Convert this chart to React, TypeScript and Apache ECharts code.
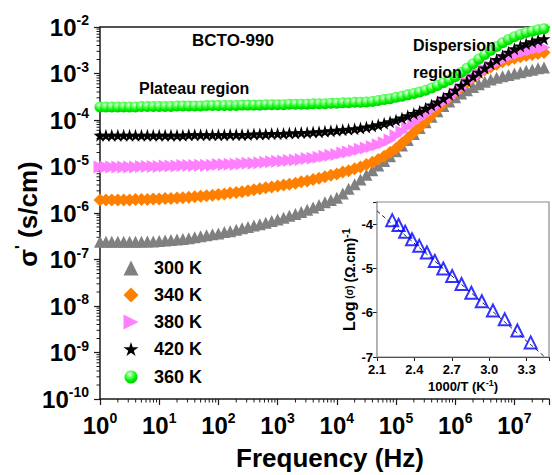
import React, { useEffect, useRef } from 'react';
import * as echarts from 'echarts';

const FONT = '"Liberation Sans", Arial, Helvetica, sans-serif';

// Frequency points (Hz)
const freqHz = [
  1, 1.26, 1.58, 2, 2.51, 3.16, 3.98, 5.01, 6.31, 7.94,
  10, 12.6, 15.8, 20, 25.1, 31.6, 39.8, 50.1, 63.1, 79.4,
  100, 126, 158, 200, 251, 316, 398, 501, 631, 794,
  1e3, 1.26e3, 1.58e3, 2e3, 2.51e3, 3.16e3, 3.98e3, 5.01e3, 6.31e3, 7.94e3,
  1e4, 1.26e4, 1.58e4, 2e4, 2.51e4, 3.16e4, 3.98e4, 5.01e4, 6.31e4, 7.94e4,
  1e5, 1.26e5, 1.58e5, 2e5, 2.51e5, 3.16e5, 3.98e5, 5.01e5, 6.31e5, 7.94e5,
  1e6, 1.26e6, 1.58e6, 2e6, 2.51e6, 3.16e6, 3.98e6, 5.01e6, 6.31e6, 7.94e6,
  1e7, 1.26e7, 1.58e7, 2e7, 2.51e7, 3.16e7,
];

// AC conductivity sigma' (S/cm)
const sigma300K = [
  2.4e-7, 2.4e-7, 2.4e-7, 2.4e-7, 2.4e-7, 2.4e-7, 2.4e-7, 2.4e-7, 2.45e-7, 2.45e-7, 2.51e-7,
  2.57e-7, 2.63e-7, 2.69e-7, 2.75e-7, 2.88e-7, 3.02e-7, 3.16e-7, 3.31e-7, 3.47e-7, 3.63e-7,
  3.89e-7, 4.07e-7, 4.37e-7, 4.68e-7, 5.01e-7, 5.37e-7, 5.75e-7, 6.17e-7, 6.76e-7, 7.24e-7,
  7.94e-7, 8.71e-7, 9.55e-7, 1.05e-6, 1.17e-6, 1.32e-6, 1.48e-6, 1.7e-6, 1.91e-6, 2.14e-6,
  2.63e-6, 3.31e-6, 4.17e-6, 5.25e-6, 6.61e-6, 8.32e-6, 1.05e-5, 1.32e-5, 1.66e-5, 2.14e-5,
  2.82e-5, 3.72e-5, 5.01e-5, 6.76e-5, 8.91e-5, 1.17e-4, 1.55e-4, 2.0e-4, 2.51e-4, 3.09e-4,
  3.72e-4, 4.37e-4, 5.13e-4, 5.89e-4, 6.61e-4, 7.41e-4, 8.13e-4, 8.71e-4, 9.33e-4, 1.0e-3,
  1.07e-3, 1.15e-3, 1.2e-3, 1.29e-3, 1.35e-3,
];
const sigma340K = [
  1.91e-6, 1.91e-6, 1.91e-6, 1.91e-6, 1.91e-6, 1.91e-6, 1.95e-6, 1.95e-6, 1.95e-6, 2.0e-6, 2.0e-6,
  2.04e-6, 2.04e-6, 2.09e-6, 2.14e-6, 2.19e-6, 2.24e-6, 2.29e-6, 2.34e-6, 2.4e-6, 2.51e-6,
  2.57e-6, 2.69e-6, 2.75e-6, 2.88e-6, 3.02e-6, 3.16e-6, 3.31e-6, 3.47e-6, 3.63e-6, 3.8e-6,
  3.98e-6, 4.17e-6, 4.37e-6, 4.68e-6, 4.9e-6, 5.25e-6, 5.62e-6, 6.03e-6, 6.46e-6, 6.92e-6,
  7.59e-6, 8.13e-6, 8.91e-6, 9.77e-6, 1.1e-5, 1.23e-5, 1.41e-5, 1.66e-5, 2.0e-5, 2.45e-5,
  3.16e-5, 4.07e-5, 5.37e-5, 7.08e-5, 9.33e-5, 1.26e-4, 1.7e-4, 2.29e-4, 3.02e-4, 3.89e-4,
  5.01e-4, 6.46e-4, 8.13e-4, 1.0e-3, 1.2e-3, 1.38e-3, 1.58e-3, 1.78e-3, 1.95e-3, 2.14e-3,
  2.29e-3, 2.45e-3, 2.57e-3, 2.69e-3, 2.82e-3,
];
const sigma380K = [
  9.77e-6, 9.77e-6, 9.77e-6, 9.77e-6, 9.77e-6, 9.77e-6, 9.77e-6, 1.0e-5, 1.0e-5, 1.0e-5, 1.0e-5,
  1.02e-5, 1.02e-5, 1.02e-5, 1.05e-5, 1.05e-5, 1.05e-5, 1.07e-5, 1.07e-5, 1.07e-5, 1.1e-5,
  1.1e-5, 1.12e-5, 1.12e-5, 1.15e-5, 1.17e-5, 1.17e-5, 1.2e-5, 1.23e-5, 1.26e-5, 1.29e-5,
  1.32e-5, 1.35e-5, 1.38e-5, 1.41e-5, 1.48e-5, 1.51e-5, 1.58e-5, 1.66e-5, 1.74e-5, 1.82e-5,
  1.95e-5, 2.04e-5, 2.19e-5, 2.34e-5, 2.51e-5, 2.69e-5, 2.95e-5, 3.24e-5, 3.72e-5, 4.57e-5,
  5.62e-5, 7.08e-5, 8.71e-5, 1.07e-4, 1.32e-4, 1.62e-4, 2.0e-4, 2.4e-4, 2.95e-4, 3.72e-4,
  4.79e-4, 6.31e-4, 7.94e-4, 9.77e-4, 1.2e-3, 1.41e-3, 1.66e-3, 1.95e-3, 2.24e-3, 2.51e-3,
  2.75e-3, 3.02e-3, 3.24e-3, 3.47e-3, 3.63e-3,
];
const sigma420K = [
  4.68e-5, 4.68e-5, 4.68e-5, 4.68e-5, 4.68e-5, 4.68e-5, 4.68e-5, 4.68e-5, 4.68e-5, 4.68e-5, 4.68e-5,
  4.68e-5, 4.68e-5, 4.68e-5, 4.68e-5, 4.79e-5, 4.79e-5, 4.79e-5, 4.79e-5, 4.79e-5, 4.79e-5,
  4.79e-5, 4.9e-5, 4.9e-5, 4.9e-5, 4.9e-5, 5.01e-5, 5.01e-5, 5.01e-5, 5.13e-5, 5.13e-5,
  5.13e-5, 5.25e-5, 5.25e-5, 5.37e-5, 5.37e-5, 5.5e-5, 5.62e-5, 5.75e-5, 5.89e-5, 6.03e-5,
  6.17e-5, 6.31e-5, 6.46e-5, 6.76e-5, 7.08e-5, 7.41e-5, 7.94e-5, 8.51e-5, 9.12e-5, 1.0e-4,
  1.1e-4, 1.23e-4, 1.38e-4, 1.55e-4, 1.78e-4, 2.09e-4, 2.45e-4, 2.95e-4, 3.55e-4, 4.37e-4,
  5.5e-4, 6.92e-4, 8.71e-4, 1.07e-3, 1.32e-3, 1.62e-3, 2.0e-3, 2.4e-3, 2.88e-3, 3.39e-3,
  3.89e-3, 4.37e-3, 4.79e-3, 5.25e-3, 5.62e-3,
];
const sigma360K = [
  1.91e-4, 1.91e-4, 1.91e-4, 1.91e-4, 1.91e-4, 1.91e-4, 1.91e-4, 1.95e-4, 1.95e-4, 1.95e-4, 1.95e-4,
  1.95e-4, 1.95e-4, 2.0e-4, 2.0e-4, 2.0e-4, 2.0e-4, 2.0e-4, 2.04e-4, 2.04e-4, 2.04e-4,
  2.04e-4, 2.04e-4, 2.04e-4, 2.09e-4, 2.09e-4, 2.09e-4, 2.09e-4, 2.14e-4, 2.14e-4, 2.14e-4,
  2.14e-4, 2.19e-4, 2.19e-4, 2.19e-4, 2.19e-4, 2.24e-4, 2.24e-4, 2.24e-4, 2.29e-4, 2.29e-4,
  2.34e-4, 2.34e-4, 2.4e-4, 2.4e-4, 2.45e-4, 2.51e-4, 2.63e-4, 2.75e-4, 2.88e-4, 3.09e-4,
  3.24e-4, 3.47e-4, 3.72e-4, 3.98e-4, 4.37e-4, 4.9e-4, 5.5e-4, 6.31e-4, 7.24e-4, 8.51e-4,
  1.05e-3, 1.29e-3, 1.62e-3, 2.04e-3, 2.57e-3, 3.16e-3, 3.8e-3, 4.57e-3, 5.37e-3, 6.17e-3,
  6.92e-3, 7.59e-3, 8.13e-3, 8.71e-3, 9.12e-3,
];

const seriesNames = ['300 K', '340 K', '380 K', '420 K', '360 K'];
const seriesColors = ['#808080', '#ff8000', '#ff80ff', '#000000', '#00ff00'];

// Inset: Arrhenius plot
const invTemp = [2.222, 2.273, 2.326, 2.381, 2.439, 2.5, 2.564, 2.632, 2.703, 2.778, 2.857, 2.941, 3.03, 3.125, 3.226, 3.333];
const logSigma = [-3.91, -4.02, -4.17, -4.34, -4.49, -4.64, -4.83, -5.0, -5.17, -5.35, -5.55, -5.74, -5.95, -6.15, -6.4, -6.67];
const fitX = [2.1, 3.48];
const fitY = [-3.7, -7.08];

const STAR = 'path://M50,0L61,35L98,35L68,57L79,91L50,70L21,91L32,57L2,35L39,35Z';
const RIGHT_TRI = 'path://M0,0L10,5L0,10Z';

export default function App() {
  const ref = useRef<HTMLDivElement>(null);

  useEffect(() => {
    if (!ref.current) return;
    const chart = echarts.init(ref.current, undefined, { renderer: 'svg' });

    const sigmaSets = [sigma300K, sigma340K, sigma380K, sigma420K, sigma360K];
    const symbols = ['triangle', 'diamond', RIGHT_TRI, STAR, 'circle'];
    const sizes = [12, 13, 13, 13, 11];
    const greenFill = new echarts.graphic.RadialGradient(0.4, 0.3, 0.65, [
      { offset: 0, color: '#eaffea' },
      { offset: 0.35, color: '#66ff66' },
      { offset: 0.75, color: '#00f000' },
      { offset: 1, color: '#00d400' },
    ]);

    const mainSeries = sigmaSets.map((arr, i) => ({
      name: seriesNames[i],
      type: 'scatter',
      xAxisIndex: 0,
      yAxisIndex: 0,
      symbol: symbols[i],
      symbolSize: sizes[i],
      itemStyle: { color: i === 4 ? greenFill : seriesColors[i], opacity: 1 },
      data: freqHz.map((f, k) => [f, arr[k]]),
      z: 3 + i,
      silent: true,
    }));

    const xMax = 3.84e7;
    const minorX: number[][] = [];
    for (let d = 0; d <= 7; d++) for (let m = 2; m <= 9; m++) { const f = m * Math.pow(10, d); if (f < xMax) minorX.push([f, 1e-10]); }
    const minorY: number[][] = [];
    for (let d = -10; d <= -3; d++) for (let m = 2; m <= 9; m++) minorY.push([1, m * Math.pow(10, d)]);

    const tickLabel = (v: number) => {
      const e = Math.log10(v);
      const r = Math.round(e);
      if (Math.abs(e - r) > 0.01) return '';
      return `{b|10}{s|${r}}`;
    };
    const richTick = {
      b: { fontSize: 24, fontWeight: 'bold', fontFamily: FONT, color: '#000', lineHeight: 28 },
      s: { fontSize: 14, fontWeight: 'bold', fontFamily: FONT, color: '#000', verticalAlign: 'top', lineHeight: 14 },
    };
    const axisLineStyle = { color: '#1a1a1a', width: 1.5 };

    const legendRows = [268, 295, 322, 349, 377];
    const legendSizes = [15, 15, 15, 15, 13];

    const option: any = {
      animation: false,
      backgroundColor: '#ffffff',
      grid: [
        { left: 100, top: 27, right: 0, bottom: 76 },
        { left: 377, top: 202, width: 173, height: 155, show: true, backgroundColor: '#ffffff', borderColor: '#8a8a8a', borderWidth: 1.2, z: 10 },
      ],
      xAxis: [
        {
          type: 'log', gridIndex: 0, min: 1, max: xMax, logBase: 10, splitNumber: 8,
          axisLine: { show: true, lineStyle: axisLineStyle },
          axisTick: { show: true, inside: false, length: 6, lineStyle: { color: '#1a1a1a', width: 1.2 } },
          axisLabel: { formatter: tickLabel, rich: richTick, margin: 12 },
          splitLine: { show: false },
        },
        {
          type: 'log', gridIndex: 0, position: 'top', min: 1, max: xMax, logBase: 10,
          axisLine: { show: true, lineStyle: axisLineStyle },
          axisTick: { show: false }, axisLabel: { show: false }, splitLine: { show: false },
        },
        {
          type: 'value', gridIndex: 1, min: 2.1, max: 3.48, interval: 0.3,
          axisLine: { show: true, lineStyle: { color: '#1a1a1a', width: 1.2 } },
          axisTick: { show: true, length: 4, lineStyle: { color: '#1a1a1a' } },
          axisLabel: {
            margin: 6, color: '#000', fontSize: 13, fontWeight: 'bold', fontFamily: FONT, lineHeight: 12,
            formatter: (v: number) => (v > 3.4 ? '' : v.toFixed(1)),
          },
          splitLine: { show: false },
          name: '{a|1000/T (K}{s|-1}{a|)}',
          nameLocation: 'middle', nameGap: 21,
          nameTextStyle: {
            rich: {
              a: { fontSize: 13, fontWeight: 'bold', fontFamily: FONT, color: '#000', lineHeight: 16 },
              s: { fontSize: 9, fontWeight: 'bold', fontFamily: FONT, color: '#000', verticalAlign: 'top', lineHeight: 9 },
            },
          },
        },
      ],
      yAxis: [
        {
          type: 'log', gridIndex: 0, min: 1e-10, max: 1e-2, logBase: 10, splitNumber: 8,
          axisLine: { show: true, lineStyle: axisLineStyle },
          axisTick: { show: true, inside: false, length: 6, lineStyle: { color: '#1a1a1a', width: 1.2 } },
          axisLabel: { formatter: tickLabel, rich: richTick, margin: 11 },
          splitLine: { show: false },
        },
        {
          type: 'value', gridIndex: 1, min: -7, max: -3.5, interval: 1,
          axisLine: { show: true, lineStyle: { color: '#1a1a1a', width: 1.2 } },
          axisTick: { show: true, length: 4, lineStyle: { color: '#1a1a1a' } },
          axisLabel: {
            margin: 4, color: '#000', fontSize: 13, fontWeight: 'bold', fontFamily: FONT, lineHeight: 12,
            formatter: (v: number) => (Math.abs(v - Math.round(v)) > 1e-6 ? '' : String(Math.round(v))),
          },
          splitLine: { show: false },
          name: '{a|Log}{b| (σ) }{c|(Ω.cm)}{s|-1}',
          nameLocation: 'middle', nameRotate: 90, nameGap: 17,
          nameTextStyle: {
            rich: {
              a: { fontSize: 16, fontWeight: 'bold', fontFamily: FONT, color: '#000', lineHeight: 18 },
              b: { fontSize: 10, fontWeight: 'bold', fontFamily: FONT, color: '#000' },
              c: { fontSize: 14, fontWeight: 'bold', fontFamily: FONT, color: '#000' },
              s: { fontSize: 11, fontWeight: 'bold', fontFamily: FONT, color: '#000', verticalAlign: 'top', lineHeight: 11 },
            },
          },
        },
      ],
      legend: seriesNames.map((n, i) => ({
        data: [n],
        left: 131 - legendSizes[i] / 2,
        top: legendRows[i] - 9,
        padding: 0,
        itemWidth: legendSizes[i],
        itemHeight: legendSizes[i],
        selectedMode: false,
        textStyle: {
          fontSize: 18, fontWeight: 'bold', fontFamily: FONT, color: '#000', lineHeight: 18,
          padding: [0, 0, 0, 154 - (131 + legendSizes[i] / 2) - 5],
        },
      })),
      graphic: [
        {
          type: 'text', left: 192, top: 32, z: 100,
          style: { text: 'BCTO-990', fontSize: 17, fontWeight: 'bold', fontFamily: FONT, fill: '#000' },
        },
        {
          type: 'text', left: 139, top: 80, z: 100,
          style: { text: 'Plateau region', fontSize: 16, fontWeight: 'bold', fontFamily: FONT, fill: '#000' },
        },
        {
          type: 'text', left: 413, top: 37, z: 100,
          style: { text: 'Dispersion', fontSize: 16, fontWeight: 'bold', fontFamily: FONT, fill: '#000' },
        },
        {
          type: 'text', left: 413, top: 64, z: 100,
          style: { text: 'region', fontSize: 16, fontWeight: 'bold', fontFamily: FONT, fill: '#000' },
        },
        {
          type: 'text', x: 330, y: 458, z: 100,
          style: { text: 'Frequency (Hz)', fontSize: 26, fontWeight: 'bold', fontFamily: FONT, fill: '#000', align: 'center', verticalAlign: 'middle' },
        },
        {
          type: 'text', x: 28, y: 214, rotation: Math.PI / 2, z: 100,
          style: {
            text: "{b|σ}{s|'}{b| (s/cm)}",
            align: 'center', verticalAlign: 'middle',
            rich: {
              b: { fontSize: 26, fontWeight: 'bold', fontFamily: FONT, fill: '#000', lineHeight: 30 },
              s: { fontSize: 16, fontWeight: 'bold', fontFamily: FONT, fill: '#000', verticalAlign: 'top', lineHeight: 16 },
            },
          },
        },
      ],
      series: [
        ...mainSeries,
        {
          type: 'custom', xAxisIndex: 0, yAxisIndex: 0, silent: true, clip: false,
          data: minorX,
          renderItem: (params: any, api: any) => {
            const p = api.coord([api.value(0), api.value(1)]);
            return { type: 'line', shape: { x1: p[0], y1: p[1], x2: p[0], y2: p[1] + 3.5 }, style: { stroke: '#1a1a1a', lineWidth: 1 } };
          },
        },
        {
          type: 'custom', xAxisIndex: 0, yAxisIndex: 0, silent: true, clip: false,
          data: minorY,
          renderItem: (params: any, api: any) => {
            const p = api.coord([api.value(0), api.value(1)]);
            return { type: 'line', shape: { x1: p[0] - 3.5, y1: p[1], x2: p[0], y2: p[1] }, style: { stroke: '#1a1a1a', lineWidth: 1 } };
          },
        },
        {
          type: 'line', xAxisIndex: 2, yAxisIndex: 1, silent: true,
          data: fitX.map((x, i) => [x, fitY[i]]),
          symbol: 'none',
          lineStyle: { color: '#222', width: 1, type: [4, 3] },
          z: 11,
        },
        {
          type: 'scatter', xAxisIndex: 2, yAxisIndex: 1, silent: true,
          data: invTemp.map((x, i) => [x, logSigma[i]]),
          symbol: 'triangle', symbolSize: 12,
          itemStyle: { color: 'rgba(255,255,255,0)', borderColor: '#0000ff', borderWidth: 2 },
          z: 12,
        },
      ],
    };

    chart.setOption(option);
    return () => chart.dispose();
  }, []);

  return (
    <div
      ref={ref}
      style={{ position: 'fixed', left: 0, top: 0, width: 552, height: 475, background: '#fff' }}
    />
  );
}
